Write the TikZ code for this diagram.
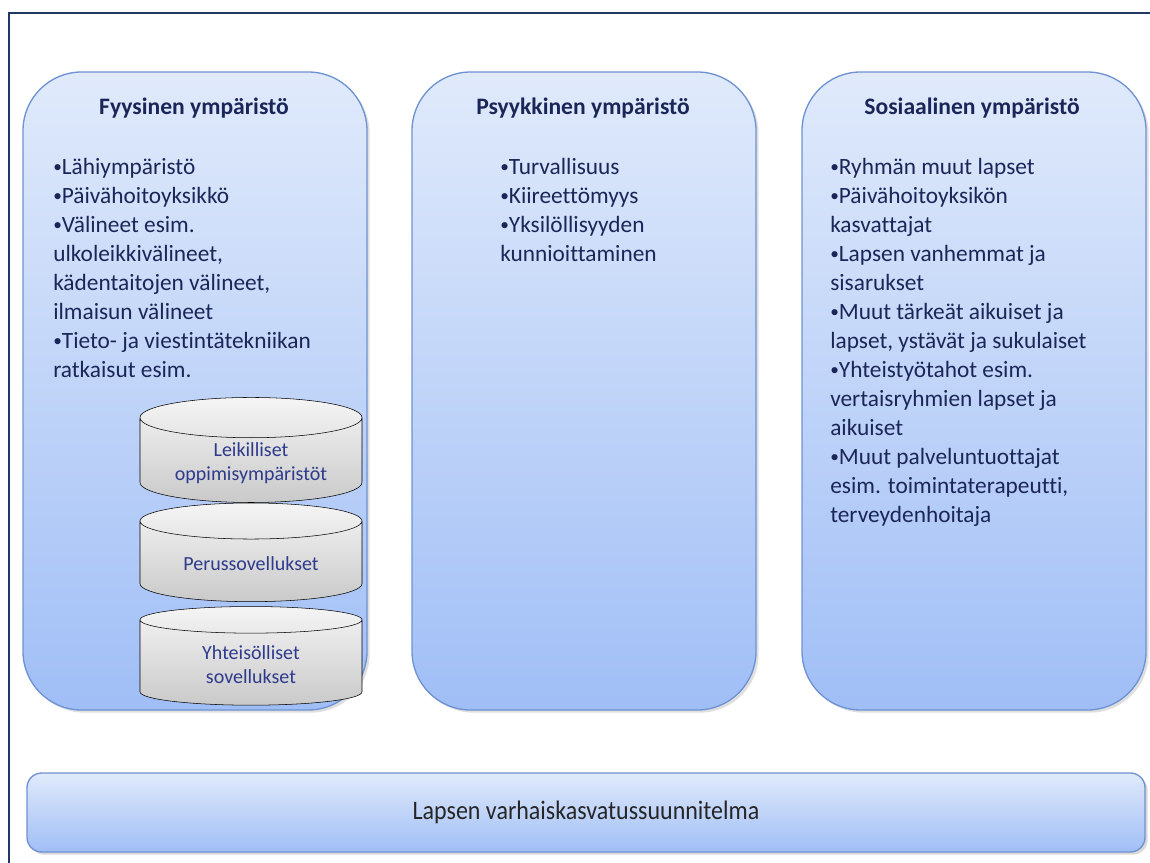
\documentclass[tikz,border=0pt]{standalone}
\usepackage{fontspec}
\setmainfont{Carlito}[Ligatures=NoCommon]
\newfontfamily\narrowfont{Carlito}[FakeStretch=0.9, Ligatures=NoCommon]
\usetikzlibrary{shapes.geometric,positioning,shadows}
\definecolor{framenavy}{RGB}{31,56,100}
\definecolor{boxedge}{RGB}{110,146,210}
\definecolor{boxtop}{RGB}{224,234,251}
\definecolor{boxbottom}{RGB}{160,190,246}
\definecolor{textnavy}{RGB}{27,38,88}
\definecolor{cyltext}{RGB}{46,58,140}
\newcommand{\bl}{\raisebox{0.1em}{\fontsize{13}{13}\selectfont•}}

\begin{document}
\begin{tikzpicture}[x=0.75pt, y=-0.75pt,
  envbox/.style={draw=boxedge, line width=1pt, rounded corners=44pt,
    top color=boxtop, bottom color=boxbottom,
    drop shadow={opacity=0.25, shadow xshift=2pt, shadow yshift=-2pt},
    minimum width=258pt, minimum height=478.5pt},
  envtitle/.style={font=\fontsize{17.7}{21}\selectfont\bfseries, text=textnavy},
  envlist/.style={font=\fontsize{17.5}{21.75}\selectfont, text=textnavy,
    align=left, anchor=north west, inner sep=0pt},
  cyl/.style={cylinder, shape border rotate=90, aspect=0.25, draw=black,
    top color=gray!8, bottom color=gray!42, minimum width=166.5pt,
    minimum height=74pt, align=center, text=cyltext,
    font=\fontsize{15}{18}\selectfont}]
  \useasboundingbox (0,0) rectangle (1150,863);
  \draw[framenavy, line width=1.5pt] (9,870) -- (9,13) -- (1160,13);

  % three environments
  \node[envbox] (fyys) at (195,391) {};
  \node[envbox] (psyk) at (584,391) {};
  \node[envbox] (sos) at (974,391) {};

  \node[envtitle] (fyysT) at (194,108) {Fyysinen ympäristö};
  \node[envtitle] (psykT) at (583,108) {Psyykkinen ympäristö};
  \node[envtitle] (sosT) at (972,108) {Sosiaalinen ympäristö};

  \node[envlist] (fyysL) at (53,158) {\bl Lähiympäristö\\\bl Päivähoitoyksikkö\\\bl Välineet esim.\\ulkoleikkivälineet,\\kädentaitojen välineet,\\ilmaisun välineet\\\bl Tieto- ja viestintätekniikan\\ratkaisut esim.};
  \node[envlist] (psykL) at (500,158) {\bl Turvallisuus\\\bl Kiireettömyys\\\bl Yksilöllisyyden\\kunnioittaminen};
  \node[envlist] (sosL) at (830,158) {\bl Ryhmän muut lapset\\\bl Päivähoitoyksikön\\kasvattajat\\\bl Lapsen vanhemmat ja\\sisarukset\\\bl Muut tärkeät aikuiset ja\\lapset, ystävät ja sukulaiset\\\bl Yhteistyötahot esim.\\vertaisryhmien lapset ja\\aikuiset\\\bl Muut palveluntuottajat\\esim. toimintaterapeutti,\\terveydenhoitaja};

  % stacked applications
  \node[cyl] (leik) at (251,463) {Leikilliset\\oppimisympäristöt};
  \node[cyl] (perus) at (251,564) {Perussovellukset};
  \node[cyl] (yht) at (251,664.5) {Yhteisölliset\\sovellukset};

  % plan bar
  \node[draw=boxedge, line width=1pt, rounded corners=11pt,
    top color=boxtop, bottom color=boxbottom,
    drop shadow={opacity=0.3, shadow xshift=2pt, shadow yshift=-2pt},
    minimum width=838.5pt, minimum height=59.25pt,
    font=\narrowfont\fontsize{20}{24}\selectfont, text=black!85] (vasu) at (586,812.5) {Lapsen varhaiskasvatussuunnitelma};
\end{tikzpicture}
\end{document}
